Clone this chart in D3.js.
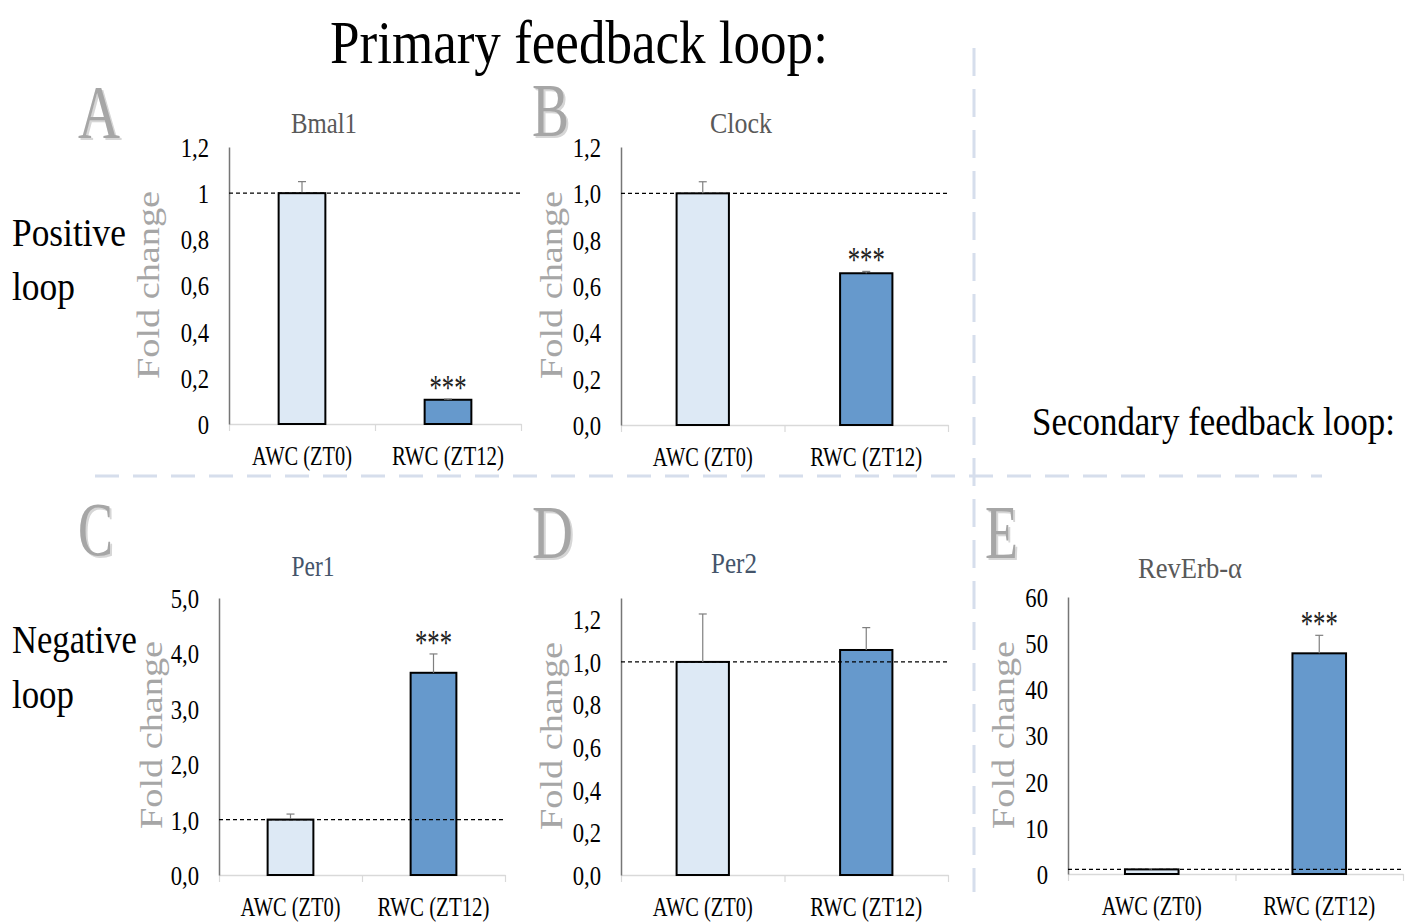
<!DOCTYPE html>
<html><head><meta charset="utf-8">
<script src="https://cdn.jsdelivr.net/npm/d3@7"></script>
<style>html,body{margin:0;padding:0;background:#fff;} svg{display:block;font-family:"Liberation Serif","DejaVu Serif",serif;}</style>
</head><body><svg id="c" width="1405" height="922"></svg>
<script>
// ---------------- data ----------------
const categories = ["AWC (ZT0)", "RWC (ZT12)"];
const geneNames = ["Bmal1", "Clock", "Per1", "Per2", "RevErb-α"];
const panelLetters = ["A", "B", "C", "D", "E"];

const bmal1Mean = [1.0, 0.105];
const bmal1Err = [0.05, 0.003];
const clockMean = [1.0, 0.655];
const clockErr = [0.05, 0.008];
const per1Mean = [1.0, 3.65];
const per1Err = [0.1, 0.34];
const per2Mean = [1.0, 1.056];
const per2Err = [0.225, 0.105];
const revErbMean = [1.0, 47.8];
const revErbErr = [0.15, 3.9];

const bmal1Sig = ["", "***"];
const clockSig = ["", "***"];
const per1Sig = ["", "***"];
const per2Sig = ["", ""];
const revErbSig = ["", "***"];

const bmal1Ticks = [0, 0.2, 0.4, 0.6, 0.8, 1, 1.2];
const bmal1TickLabels = ["0", "0,2", "0,4", "0,6", "0,8", "1", "1,2"];
const clockTicks = [0, 0.2, 0.4, 0.6, 0.8, 1, 1.2];
const clockTickLabels = ["0,0", "0,2", "0,4", "0,6", "0,8", "1,0", "1,2"];
const per1Ticks = [0, 1, 2, 3, 4, 5];
const per1TickLabels = ["0,0", "1,0", "2,0", "3,0", "4,0", "5,0"];
const per2Ticks = [0, 0.2, 0.4, 0.6, 0.8, 1, 1.2];
const per2TickLabels = ["0,0", "0,2", "0,4", "0,6", "0,8", "1,0", "1,2"];
const revErbTicks = [0, 10, 20, 30, 40, 50, 60];
const revErbTickLabels = ["0", "10", "20", "30", "40", "50", "60"];

const yMaxes = [1.2, 1.2, 5, 1.3, 60];
const referenceLevel = 1;

const mainTitle = "Primary feedback loop:";
const secondaryTitle = "Secondary feedback loop:";
const rowLabels = [["Positive", "loop"], ["Negative", "loop"]];
const yAxisTitle = "Fold change";

// ---------------- layout ----------------
const svg = d3.select("#c");
const FONT = '"Liberation Serif","DejaVu Serif",serif';

// text fitted to a width by horizontal scaling (keeps real bounding box)
function txt(g, s, x, y, o) {
  o = o || {};
  const t = g.append("text")
    .attr("x", 0).attr("y", 0)
    .attr("font-size", o.size || 20)
    .attr("fill", o.fill || "#000")
    .attr("text-anchor", o.anchor || "start")
    .text(s);
  let sx = o.sx || 1;
  if (o.width) sx = o.width / t.node().getComputedTextLength();
  t.attr("transform", `translate(${x},${y})${o.rotate ? ` rotate(${o.rotate})` : ""} scale(${sx},1)`);
  return t;
}

// separators
svg.append("line").attr("x1", 95).attr("x2", 1322).attr("y1", 476).attr("y2", 476)
  .attr("stroke", "#d6deec").attr("stroke-width", 3).attr("stroke-dasharray", "24,14");
svg.append("line").attr("x1", 974).attr("x2", 974).attr("y1", 48).attr("y2", 892)
  .attr("stroke", "#d6deec").attr("stroke-width", 3).attr("stroke-dasharray", "28,13");

// headings
txt(svg, mainTitle, 330, 63, {size: 62, width: 498});
txt(svg, secondaryTitle, 1032, 435, {size: 40, width: 363});
txt(svg, rowLabels[0][0], 12, 246, {size: 40, width: 114});
txt(svg, rowLabels[0][1], 12, 300, {size: 40, width: 63});
txt(svg, rowLabels[1][0], 12, 653, {size: 40, width: 125});
txt(svg, rowLabels[1][1], 12, 708, {size: 40, width: 62});

const panels = [
  {mean: bmal1Mean, err: bmal1Err, sig: bmal1Sig, ticks: bmal1Ticks, tickLabels: bmal1TickLabels,
   x0: 229, x1: 521, yb: 424, yt: 147, tX: 324, tY: 133, tW: 66, tFill: "#595959",
   lX: 78, lY: 138, lW: 42, yl: 159, ylY: 285},
  {mean: clockMean, err: clockErr, sig: clockSig, ticks: clockTicks, tickLabels: clockTickLabels,
   x0: 621, x1: 948, yb: 425, yt: 147, tX: 741, tY: 133, tW: 62, tFill: "#595959",
   lX: 532, lY: 136, lW: 37, yl: 562, ylY: 285},
  {mean: per1Mean, err: per1Err, sig: per1Sig, ticks: per1Ticks, tickLabels: per1TickLabels,
   x0: 219, x1: 505, yb: 875, yt: 598, tX: 313, tY: 576, tW: 43, tFill: "#44546a",
   lX: 78, lY: 555, lW: 35, yl: 162, ylY: 735},
  {mean: per2Mean, err: per2Err, sig: per2Sig, ticks: per2Ticks, tickLabels: per2TickLabels,
   x0: 621, x1: 948, yb: 875, yt: 598, tX: 734, tY: 573, tW: 46, tFill: "#44546a",
   lX: 532, lY: 558, lW: 41, yl: 562, ylY: 736},
  {mean: revErbMean, err: revErbErr, sig: revErbSig, ticks: revErbTicks, tickLabels: revErbTickLabels,
   x0: 1068, x1: 1403, yb: 874, yt: 597, tX: 1190, tY: 578, tW: 104, tFill: "#595959",
   lX: 985, lY: 558, lW: 33, yl: 1014, ylY: 735}
];

const barFill = ["#dde9f5", "#6699cc"];

panels.forEach((p, i) => {
  const g = svg.append("g");
  const y = d3.scaleLinear().domain([0, yMaxes[i]]).range([p.yb, p.yt]);
  const x = d3.scaleBand().domain(categories).range([p.x0, p.x1]).padding(0);
  const xb = d3.scaleLinear().domain([0, categories.length]).range([p.x0, p.x1]);
  const bw = x.bandwidth() * 0.32;

  // panel letter with shadow
  txt(g, panelLetters[i], p.lX + 2, p.lY + 2, {size: 76, fill: "#d6d6d6", width: p.lW});
  txt(g, panelLetters[i], p.lX, p.lY, {size: 76, fill: "#a6a6a6", width: p.lW});

  // chart title
  txt(g, geneNames[i], p.tX, p.tY, {size: 30, fill: p.tFill, anchor: "middle", width: p.tW});

  // y axis title
  txt(g, yAxisTitle, p.yl, p.ylY, {size: 32, fill: "#a6a6a6", anchor: "middle", width: 188, rotate: -90});

  // x axis (boundary ticks)
  const xAx = g.append("g").attr("transform", `translate(0,${p.yb})`)
    .call(d3.axisBottom(xb).tickValues(d3.range(categories.length + 1)).tickFormat("").tickSize(7).tickSizeOuter(0));
  xAx.select(".domain").attr("stroke", "#d9d9d9").attr("stroke-width", 1.5);
  xAx.selectAll(".tick line").attr("stroke", "#d9d9d9").attr("stroke-width", 1.2);

  // category labels
  const xl = g.append("g").attr("transform", `translate(0,${p.yb + 41})`)
    .call(d3.axisBottom(x).tickSize(0).tickPadding(0));
  xl.select(".domain").remove();
  xl.selectAll("text").attr("dy", 0).attr("y", 0)
    .attr("font-family", FONT).attr("font-size", 27).attr("fill", "#000")
    .each(function (d) {
      const w = d === categories[0] ? 100 : 112;
      const sx = w / this.getComputedTextLength();
      d3.select(this).attr("transform", `scale(${sx},1)`);
    });

  // y axis
  const yAx = g.append("g").attr("transform", `translate(${p.x0},0)`)
    .call(d3.axisLeft(y).tickValues(p.ticks).tickFormat((d, k) => p.tickLabels[k]).tickSize(0).tickSizeOuter(0).tickPadding(0));
  yAx.select(".domain").attr("stroke", "#767676").attr("stroke-width", 1.5);
  yAx.selectAll("text").attr("x", 0).attr("dy", "0.35em")
    .attr("font-family", FONT).attr("font-size", 27).attr("fill", "#000")
    .attr("transform", "translate(-20,0) scale(0.84,1)");

  // bars
  g.selectAll("rect.bar").data(p.mean).join("rect")
    .attr("class", "bar")
    .attr("x", (d, k) => x(categories[k]) + (x.bandwidth() - bw) / 2)
    .attr("width", bw)
    .attr("y", d => y(d))
    .attr("height", d => p.yb - y(d))
    .attr("fill", (d, k) => barFill[k])
    .attr("stroke", "#000").attr("stroke-width", 2);

  // error bars (upper)
  p.mean.forEach((m, k) => {
    const cx = x(categories[k]) + x.bandwidth() / 2;
    const top = y(m + p.err[k]);
    g.append("line").attr("x1", cx).attr("x2", cx).attr("y1", y(m)).attr("y2", top)
      .attr("stroke", "#7f7f7f").attr("stroke-width", 1.2);
    g.append("line").attr("x1", cx - 4).attr("x2", cx + 4).attr("y1", top).attr("y2", top)
      .attr("stroke", "#7f7f7f").attr("stroke-width", 1.2);
    if (p.sig[k]) {
      txt(g, p.sig[k], cx, top + 1, {size: 36, anchor: "middle", width: 37, fill: "#222"});
    }
  });

  // reference line
  g.append("line").attr("x1", p.x0).attr("x2", p.x1)
    .attr("y1", y(referenceLevel)).attr("y2", y(referenceLevel))
    .attr("stroke", "#000").attr("stroke-width", 1.2).attr("stroke-dasharray", "4,3");
});
</script></body></html>
